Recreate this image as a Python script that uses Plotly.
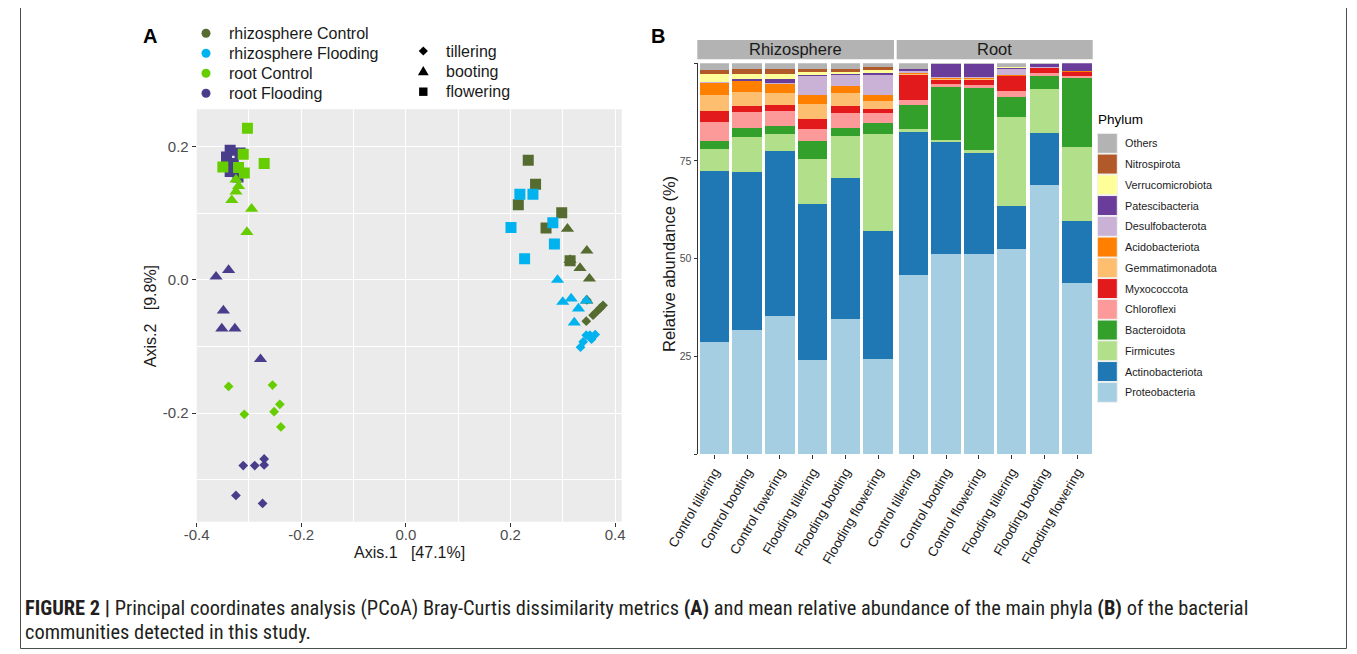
import plotly.graph_objects as go

W, H = 1357, 654
OFF = 8  # page body margin of the rendered html

# ---------------- Panel A: PCoA data ----------------
groups = ["rhizosphere Control", "rhizosphere Flooding", "root Control", "root Flooding"]
group_colors = ["#556B2F", "#00B2EE", "#66CD00", "#483D8B"]
stages = ["tillering", "booting", "flowering"]

rc_till_x = [0.358, 0.367, 0.377, 0.345, 0.346, 0.372]
rc_till_y = [-0.053, -0.046, -0.038, -0.062, -0.030, -0.042]
rc_boot_x = [0.309, 0.346, 0.333, 0.351, 0.346, 0.314]
rc_boot_y = [0.077, 0.044, 0.018, 0.002, -0.031, 0.030]
rc_flow_x = [0.234, 0.248, 0.215, 0.298, 0.268, 0.314]
rc_flow_y = [0.180, 0.144, 0.113, 0.101, 0.078, 0.029]

rf_till_x = [0.334, 0.339, 0.352, 0.362, 0.355, 0.345]
rf_till_y = [-0.101, -0.093, -0.083, -0.082, -0.089, -0.083]
rf_boot_x = [0.290, 0.300, 0.316, 0.330, 0.345, 0.322]
rf_boot_y = [0.000, -0.033, -0.028, -0.043, -0.031, -0.064]
rf_flow_x = [0.218, 0.243, 0.201, 0.281, 0.284, 0.227]
rf_flow_y = [0.129, 0.129, 0.079, 0.086, 0.054, 0.032]

oc_till_x = [-0.339, -0.255, -0.241, -0.309, -0.252, -0.239]
oc_till_y = [-0.160, -0.158, -0.187, -0.202, -0.198, -0.221]
oc_boot_x = [-0.325, -0.320, -0.325, -0.333, -0.295, -0.304]
oc_boot_y = [0.151, 0.141, 0.133, 0.120, 0.107, 0.072]
oc_flow_x = [-0.303, -0.311, -0.271, -0.350, -0.320, -0.309]
oc_flow_y = [0.228, 0.189, 0.175, 0.170, 0.169, 0.161]

of_till_x = [-0.311, -0.289, -0.271, -0.271, -0.325, -0.274]
of_till_y = [-0.279, -0.279, -0.269, -0.278, -0.324, -0.336]
of_boot_x = [-0.363, -0.339, -0.349, -0.352, -0.327, -0.278]
of_boot_y = [0.005, 0.015, -0.046, -0.073, -0.073, -0.119]
of_flow_x = [-0.336, -0.343, -0.317, -0.336, -0.321, -0.330]
of_flow_y = [0.195, 0.185, 0.191, 0.163, 0.155, 0.175]

x_ticks_a = [-0.4, -0.2, 0.0, 0.2, 0.4]
x_ticklabels_a = ["-0.4", "-0.2", "0.0", "0.2", "0.4"]
y_ticks_a = [-0.2, 0.0, 0.2]
y_ticklabels_a = ["-0.2", "0.0", "0.2"]

# ---------------- Panel B: relative abundance data ----------------
rhizo_labels = ["Control tillering", "Control booting", "Control fowering",
                "Flooding tillering", "Flooding booting", "Flooding flowering"]
root_labels = ["Control tillering", "Control booting", "Control flowering",
               "Flooding tillering", "Flooding booting", "Flooding flowering"]

# 12 values each: 6 Rhizosphere bars then 6 Root bars
proteobacteria    = [28.7, 31.8, 35.2, 24.1, 34.6, 24.2, 45.7, 51.1, 51.3, 52.5, 68.9, 43.7]
actinobacteriota  = [43.7, 40.4, 42.4, 39.9, 36.0, 32.8, 36.7, 28.8, 25.9, 11.1, 13.3, 15.9]
firmicutes        = [5.7, 9.0, 4.3, 11.4, 10.7, 24.8, 0.7, 0.5, 0.5, 22.6, 11.1, 19.1]
bacteroidota      = [1.9, 2.2, 2.0, 4.8, 2.2, 2.9, 6.2, 13.6, 16.1, 5.3, 3.5, 17.5]
chloroflexi       = [5.0, 4.1, 3.9, 3.1, 3.7, 2.7, 1.3, 0.6, 0.6, 1.5, 0.7, 0.5]
myxococcota       = [2.7, 1.6, 1.6, 2.4, 1.9, 0.9, 6.5, 1.3, 1.5, 3.7, 1.3, 1.2]
gemmatimonadota   = [4.3, 3.5, 2.9, 3.8, 3.4, 2.1, 0.2, 0.1, 0.1, 0.1, 0.0, 0.0]
acidobacteriota   = [3.0, 2.8, 2.5, 2.4, 1.8, 1.5, 0.3, 0.2, 0.2, 0.2, 0.1, 0.1]
desulfobacterota  = [0.3, 0.2, 0.2, 4.8, 2.7, 5.2, 0.6, 0.2, 0.2, 1.5, 0.1, 0.1]
patescibacteria   = [0.0, 0.5, 0.9, 0.2, 0.2, 0.5, 0.3, 3.4, 3.4, 0.4, 0.8, 1.9]
verrucomicrobiota = [2.0, 1.1, 1.3, 1.0, 0.7, 0.7, 0.1, 0.0, 0.0, 0.1, 0.0, 0.0]
nitrospirota      = [1.0, 1.3, 1.3, 0.6, 0.7, 0.7, 0.0, 0.0, 0.0, 0.0, 0.0, 0.0]
others            = [1.7, 1.5, 1.5, 1.5, 1.4, 1.0, 1.4, 0.2, 0.2, 1.0, 0.2, 0.0]

phyla = ["Proteobacteria", "Actinobacteriota", "Firmicutes", "Bacteroidota", "Chloroflexi",
         "Myxococcota", "Gemmatimonadota", "Acidobacteriota", "Desulfobacterota",
         "Patescibacteria", "Verrucomicrobiota", "Nitrospirota", "Others"]
phylum_colors = ["#A6CEE3", "#1F78B4", "#B2DF8A", "#33A02C", "#FB9A99", "#E31A1C",
                 "#FDBF6F", "#FF7F00", "#CAB2D6", "#6A3D9A", "#FFFF99", "#B15928", "#B3B3B3"]
y_ticks_b = [0, 25, 50, 75, 100]
y_ticklabels_b = ["", "25", "50", "75", ""]

phylum_values = [proteobacteria, actinobacteriota, firmicutes, bacteroidota, chloroflexi,
                 myxococcota, gemmatimonadota, acidobacteriota, desulfobacterota,
                 patescibacteria, verrucomicrobiota, nitrospirota, others]

pcoa_series = [
    ("rhizosphere Control", [(rc_till_x, rc_till_y), (rc_boot_x, rc_boot_y), (rc_flow_x, rc_flow_y)]),
    ("rhizosphere Flooding", [(rf_till_x, rf_till_y), (rf_boot_x, rf_boot_y), (rf_flow_x, rf_flow_y)]),
    ("root Flooding", [(of_till_x, of_till_y), (of_boot_x, of_boot_y), (of_flow_x, of_flow_y)]),
    ("root Control", [(oc_till_x, oc_till_y), (oc_boot_x, oc_boot_y), (oc_flow_x, oc_flow_y)]),
]

# ---------------- helpers (screen pixel -> paper fraction) ----------------
def fx(px):
    return (px - OFF) / W

def fy(py):
    return 1 - (py - OFF) / H

FONT = "Liberation Sans, Arial, Helvetica, sans-serif"
stage_symbol = {"tillering": "diamond", "booting": "triangle-up", "flowering": "square"}
stage_size = {"tillering": 7.5, "booting": 11.5, "flowering": 11}

fig = go.Figure()

# Panel A traces
for gname, parts in pcoa_series:
    color = group_colors[groups.index(gname)]
    for stage, (xs, ys) in zip(stages, parts):
        fig.add_trace(go.Scatter(
            x=xs, y=ys, mode="markers", xaxis="x", yaxis="y",
            marker=dict(symbol=stage_symbol[stage], size=stage_size[stage], color=color,
                        line=dict(width=0)),
            showlegend=False, hoverinfo="skip"))

# Panel B traces
for name, vals, col in zip(phyla, phylum_values, phylum_colors):
    fig.add_trace(go.Bar(x=rhizo_labels, y=vals[:6], xaxis="x2", yaxis="y2",
                         marker=dict(color=col, line=dict(width=0)), name=name,
                         showlegend=False, hoverinfo="skip"))
    fig.add_trace(go.Bar(x=root_labels, y=vals[6:], xaxis="x3", yaxis="y2",
                         marker=dict(color=col, line=dict(width=0)), name=name,
                         showlegend=False, hoverinfo="skip"))

shapes = []
annotations = []

# Panel A background (ggplot grey)
shapes.append(dict(type="rect", xref="x domain", yref="y domain", x0=0, x1=1, y0=0, y1=1,
                   fillcolor="#EBEBEB", line=dict(width=0), layer="below"))

# Strips for panel B
for (x0, x1, label) in [(697.3, 894.0, "Rhizosphere"), (896.7, 1092.7, "Root")]:
    shapes.append(dict(type="rect", xref="paper", yref="paper", x0=fx(x0), x1=fx(x1),
                       y0=fy(59.3), y1=fy(40), fillcolor="#B3B3B3", line=dict(width=0)))
    annotations.append(dict(x=fx((x0 + x1) / 2), y=fy(49.5), xref="paper", yref="paper",
                            text=label, showarrow=False, xanchor="center", yanchor="middle",
                            font=dict(size=16.5, color="#1A1A1A", family=FONT)))

# Phylum legend (ggplot style keys)
annotations.append(dict(x=fx(1096), y=fy(120), xref="paper", yref="paper", text="Phylum",
                        showarrow=False, xanchor="left", yanchor="middle",
                        font=dict(size=13.5, color="#000000", family=FONT)))
for i, (name, col) in enumerate(zip(phyla[::-1], phylum_colors[::-1])):
    y0 = 133.3 + i * 20.75
    shapes.append(dict(type="rect", xref="paper", yref="paper", x0=fx(1097.3), x1=fx(1117.3),
                       y0=fy(y0 + 20), y1=fy(y0), fillcolor=col, line=dict(color="#F2F2F2", width=1)))
    annotations.append(dict(x=fx(1123), y=fy(y0 + 10), xref="paper", yref="paper", text=name,
                            showarrow=False, xanchor="left", yanchor="middle",
                            font=dict(size=10.8, color="#1A1A1A", family=FONT)))

# Panel A colour legend
for i, (gname, col) in enumerate(zip(groups, group_colors)):
    cy = 33.3 + i * 20
    shapes.append(dict(type="circle", xref="paper", yref="paper", x0=fx(201.5), x1=fx(210.5),
                       y0=fy(cy + 4.5), y1=fy(cy - 4.5), fillcolor=col, line=dict(width=0)))
    annotations.append(dict(x=fx(226.5), y=fy(cy), xref="paper", yref="paper", text=gname,
                            showarrow=False, xanchor="left", yanchor="middle",
                            font=dict(size=16, color="#1A1A1A", family=FONT)))

# Panel A shape legend
sx = 423.3
for stage, cy in zip(stages, [51.0, 71.3, 91.7]):
    if stage == "tillering":
        r = 4.6
        path = (f"M {fx(sx)} {fy(cy - r)} L {fx(sx + r)} {fy(cy)} L {fx(sx)} {fy(cy + r)} "
                f"L {fx(sx - r)} {fy(cy)} Z")
    elif stage == "booting":
        path = (f"M {fx(sx)} {fy(cy - 5.2)} L {fx(sx + 5.4)} {fy(cy + 4)} "
                f"L {fx(sx - 5.4)} {fy(cy + 4)} Z")
    else:
        r = 4.2
        path = (f"M {fx(sx - r)} {fy(cy - r)} L {fx(sx + r)} {fy(cy - r)} L {fx(sx + r)} {fy(cy + r)} "
                f"L {fx(sx - r)} {fy(cy + r)} Z")
    shapes.append(dict(type="path", xref="paper", yref="paper", path=path,
                       fillcolor="#000000", line=dict(width=0)))
    annotations.append(dict(x=fx(444), y=fy(cy), xref="paper", yref="paper", text=stage,
                            showarrow=False, xanchor="left", yanchor="middle",
                            font=dict(size=16, color="#1A1A1A", family=FONT)))

# Panel letters
annotations.append(dict(x=fx(150), y=fy(36), xref="paper", yref="paper", text="<b>A</b>",
                        showarrow=False, xanchor="center", yanchor="middle",
                        font=dict(size=20, color="#000000", family=FONT)))
annotations.append(dict(x=fx(658), y=fy(36), xref="paper", yref="paper", text="<b>B</b>",
                        showarrow=False, xanchor="center", yanchor="middle",
                        font=dict(size=20, color="#000000", family=FONT)))

# Panel A axis titles
annotations.append(dict(x=fx(409), y=fy(552), xref="paper", yref="paper",
                        text="Axis.1   [47.1%]", showarrow=False, xanchor="center", yanchor="middle",
                        font=dict(size=16, color="#1A1A1A", family=FONT)))
annotations.append(dict(x=fx(150.7), y=fy(316.5), xref="paper", yref="paper",
                        text="Axis.2   [9.8%]", showarrow=False, xanchor="center", yanchor="middle",
                        textangle=-90, font=dict(size=16, color="#1A1A1A", family=FONT)))
# Panel B axis title
annotations.append(dict(x=fx(669), y=fy(264), xref="paper", yref="paper",
                        text="Relative abundance (%)", showarrow=False, xanchor="center",
                        yanchor="middle", textangle=-90,
                        font=dict(size=16.5, color="#1A1A1A", family=FONT)))

# Caption
CAP_FONT = "Liberation Sans Narrow, Roboto Condensed, Liberation Sans, Arial, sans-serif"
annotations.append(dict(x=fx(23), y=fy(608), xref="paper", yref="paper",
                        text=("<b>FIGURE 2 |</b> Principal coordinates analysis (PCoA) Bray-Curtis "
                              "dissimilarity metrics <b>(A)</b> and mean relative abundance of the main "
                              "phyla <b>(B)</b> of the bacterial"),
                        showarrow=False, xanchor="left", yanchor="middle",
                        font=dict(size=20.4, color="#231F20", family=CAP_FONT)))
annotations.append(dict(x=fx(23), y=fy(632), xref="paper", yref="paper",
                        text="communities detected in this study.",
                        showarrow=False, xanchor="left", yanchor="middle",
                        font=dict(size=20.4, color="#231F20", family=CAP_FONT)))

# Outer frame
shapes.append(dict(type="rect", xref="paper", yref="paper", x0=fx(20.5), x1=fx(1346.5),
                   y0=fy(648.5), y1=fy(-3), line=dict(color="#4D4D4D", width=1),
                   fillcolor="rgba(0,0,0,0)"))

fig.update_layout(
    width=W, height=H,
    margin=dict(l=0, r=0, t=0, b=0, pad=0),
    paper_bgcolor="white", plot_bgcolor="rgba(0,0,0,0)",
    font=dict(family=FONT),
    barmode="stack", bargap=0.1,
    showlegend=False,
    shapes=shapes, annotations=annotations,
    xaxis=dict(domain=[fx(196.7), fx(621.7)], range=[-0.4, 0.4127], anchor="y",
               automargin=False,
               tickvals=x_ticks_a, ticktext=x_ticklabels_a,
               showgrid=True, gridcolor="white", gridwidth=1.2, zeroline=False,
               minor=dict(showgrid=True, gridcolor="white", gridwidth=0.6, dtick=0.1,
                          tick0=-0.3, ticks=""),
               ticks="outside", ticklen=4, tickcolor="#333333", tickwidth=1,
               ticklabelstandoff=-5,
               tickfont=dict(size=15, color="#4D4D4D", family=FONT), showline=False),
    yaxis=dict(domain=[fy(521.7), fy(109.3)], range=[-0.3634, 0.2566], anchor="x",
               automargin=False,
               tickvals=y_ticks_a, ticktext=y_ticklabels_a,
               showgrid=True, gridcolor="white", gridwidth=1.2, zeroline=False,
               minor=dict(showgrid=True, gridcolor="white", gridwidth=0.6, dtick=0.1,
                          tick0=-0.3, ticks=""),
               ticks="outside", ticklen=4, tickcolor="#333333", tickwidth=1,
               tickfont=dict(size=15, color="#4D4D4D", family=FONT), showline=False),
    xaxis2=dict(domain=[fx(698), fx(894.5)], range=[-0.5, 5.5], anchor="y2",
                automargin=False,
                type="category", categoryorder="array", categoryarray=rhizo_labels,
                tickangle=-60, ticks="outside", ticklen=4, tickcolor="#333333",
                tickfont=dict(size=13.3, color="#1A1A1A", family=FONT),
                showgrid=False, zeroline=False, showline=False),
    xaxis3=dict(domain=[fx(897), fx(1093.5)], range=[-0.5, 5.5], anchor="y2",
                automargin=False,
                type="category", categoryorder="array", categoryarray=root_labels,
                tickangle=-60, ticks="outside", ticklen=4, tickcolor="#333333",
                tickfont=dict(size=13.3, color="#1A1A1A", family=FONT),
                showgrid=False, zeroline=False, showline=False),
    yaxis2=dict(domain=[fy(454), fy(63.3)], range=[0, 100], anchor="x2",
                automargin=False,
                tickvals=y_ticks_b, ticktext=y_ticklabels_b,
                ticks="outside", ticklen=3.5, tickcolor="#333333",
                tickfont=dict(size=10.5, color="#4D4D4D", family=FONT),
                showgrid=False, zeroline=False, showline=True, linecolor="#333333", linewidth=1),
)

fig.write_html("out.html")
